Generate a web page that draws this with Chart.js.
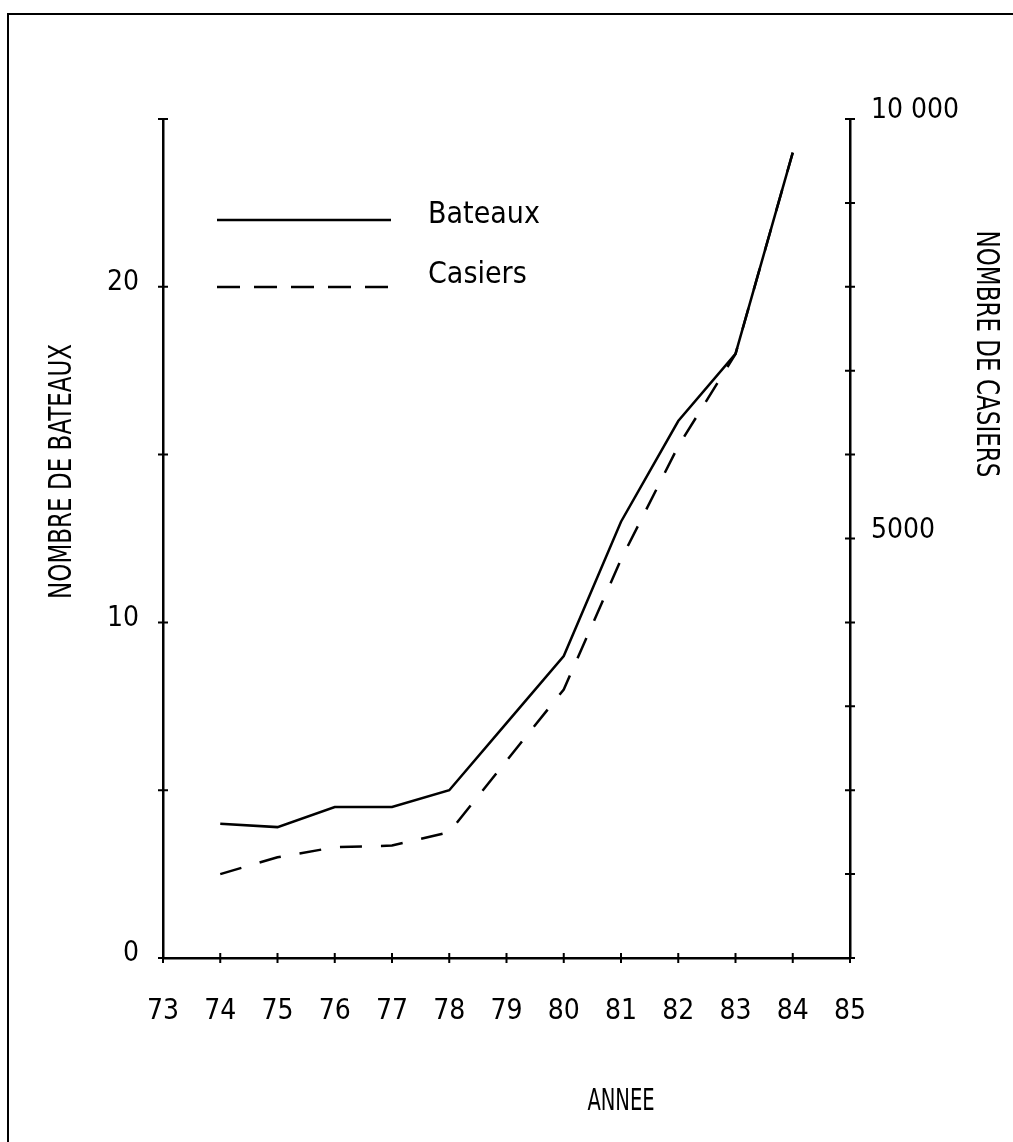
<!DOCTYPE html>
<html>
<head>
<meta charset="utf-8">
<title>Bateaux et casiers</title>
<script src="https://cdn.jsdelivr.net/npm/chart.js@4.4.1/dist/chart.umd.min.js"></script>
<style>
  html, body { margin: 0; padding: 0; background: #fff; }
  #wrap { position: relative; width: 1013px; height: 1142px; overflow: hidden; }
  #frame { position: absolute; left: 7px; top: 13px; right: -10px; bottom: -10px;
           border-top: 2px solid #000; border-left: 2px solid #000; }
  canvas { position: absolute; left: 0; top: 0; }
</style>
</head>
<body>
<div id="wrap">
  <div id="frame"></div>
  <canvas id="chart" width="1013" height="1142"></canvas>
</div>
<script>
// Data
// ====
const years = [74, 75, 76, 77, 78, 79, 80, 81, 82, 83, 84];
const bateaux = [4, 3.9, 4.5, 4.5, 5, 7, 9, 13, 16, 18, 24];
const casiers = [1000, 1200, 1320, 1340, 1500, 2350, 3200, 4750, 6100, 7200, 9600];
const leftTickLabels = [0, 10, 20];
const rightTickLabels = { 5000: '5000', 10000: '10 000' };

const TITLE_LEFT = 'NOMBRE DE BATEAUX';
const TITLE_RIGHT = 'NOMBRE DE CASIERS';
const TITLE_X = 'ANNEE';

const FONT = "'Liberation Sans Narrow', 'DejaVu Sans Condensed', sans-serif";
const INK = '#000';
const LINE_W = 2.5;

// Small crossing tick marks on the three axes
const crossTicks = {
    id: 'crossTicks',
    afterDraw(chart) {
        const ctx = chart.ctx;
        const { x, y, y1 } = chart.scales;
        ctx.save();
        ctx.strokeStyle = INK;
        ctx.lineWidth = 2;
        ctx.beginPath();
        x.ticks.forEach(t => {
            const px = x.getPixelForValue(t.value);
            ctx.moveTo(px, x.top - 5);
            ctx.lineTo(px, x.top + 5);
        });
        y.ticks.forEach(t => {
            const py = y.getPixelForValue(t.value);
            ctx.moveTo(y.right - 5, py);
            ctx.lineTo(y.right + 5, py);
        });
        y1.ticks.forEach(t => {
            const py = y1.getPixelForValue(t.value);
            ctx.moveTo(y1.left - 5, py);
            ctx.lineTo(y1.left + 5, py);
        });
        ctx.stroke();
        ctx.restore();
    }
};

// Narrow, tall lettering like the plotter's stroke font
function narrowText(ctx, text, cx, cy, angle, size, squeeze) {
    ctx.save();
    ctx.translate(cx, cy);
    ctx.rotate(angle);
    ctx.scale(squeeze, 1);
    ctx.font = `${size}px ${FONT}`;
    ctx.textAlign = 'center';
    ctx.textBaseline = 'middle';
    ctx.fillText(text, 0, 0);
    ctx.restore();
}

// Axis titles, placed where the plotter put them
const axisTitles = {
    id: 'axisTitles',
    afterDraw(chart) {
        const ctx = chart.ctx;
        const { x, y, y1 } = chart.scales;
        ctx.save();
        ctx.fillStyle = INK;
        narrowText(ctx, TITLE_LEFT, 63, y.getPixelForValue(14.5), -Math.PI / 2, 32, 0.8);
        narrowText(ctx, TITLE_RIGHT, 985, y1.getPixelForValue(7200), Math.PI / 2, 32, 0.8);
        narrowText(ctx, TITLE_X, x.getPixelForValue(81), 1102, 0, 31, 0.7);
        ctx.restore();
    }
};

// Legend drawn inside the plot, long line samples
const lineLegend = {
    id: 'lineLegend',
    afterDraw(chart) {
        const ctx = chart.ctx;
        const area = chart.chartArea;
        const x0 = area.left + 54;
        const x1 = area.left + 228;
        const rows = [area.top + 101, area.top + 168];
        ctx.save();
        ctx.font = `30px ${FONT}`;
        ctx.textBaseline = 'middle';
        ctx.fillStyle = INK;
        chart.data.datasets.forEach((ds, i) => {
            const ly = rows[i];
            ctx.strokeStyle = ds.borderColor;
            ctx.lineWidth = LINE_W;
            ctx.setLineDash(ds.borderDash ? [23, 14] : []);
            ctx.beginPath();
            ctx.moveTo(x0, ly);
            ctx.lineTo(x1, ly);
            ctx.stroke();
            ctx.fillText(ds.label, x1 + 37, ly - (i === 0 ? 5 : 12));
        });
        ctx.restore();
    }
};

const ctx = document.getElementById('chart').getContext('2d');
new Chart(ctx, {
    type: 'line',
    data: {
        datasets: [{
            label: 'Bateaux',
            data: years.map((yr, i) => ({ x: yr, y: bateaux[i] })),
            yAxisID: 'y',
            borderColor: INK,
            borderWidth: LINE_W,
            pointRadius: 0,
            tension: 0,
            fill: false
        }, {
            label: 'Casiers',
            data: years.map((yr, i) => ({ x: yr, y: casiers[i] })),
            yAxisID: 'y1',
            borderColor: INK,
            borderWidth: LINE_W,
            borderDash: [22, 19],
            pointRadius: 0,
            tension: 0,
            fill: false
        }]
    },
    options: {
        responsive: false,
        devicePixelRatio: 1,
        animation: false,
        layout: { padding: { top: 119, left: 0, right: 0, bottom: 0 } },
        plugins: {
            legend: { display: false },
            tooltip: { enabled: false }
        },
        scales: {
            x: {
                type: 'linear',
                min: 73,
                max: 85,
                grid: { display: false },
                border: { display: true, color: INK, width: LINE_W },
                ticks: {
                    stepSize: 1,
                    autoSkip: false,
                    padding: 29,
                    color: INK,
                    font: { family: FONT, size: 28 },
                    callback: v => String(v)
                },
                afterFit: s => { s.height = 184; }
            },
            y: {
                position: 'left',
                min: 0,
                max: 25,
                grid: { display: false },
                border: { display: true, color: INK, width: LINE_W },
                ticks: {
                    stepSize: 5,
                    padding: 16,
                    labelOffset: -4,
                    color: INK,
                    font: { family: FONT, size: 28 },
                    callback: v => leftTickLabels.includes(v) ? String(v) : ''
                },
                afterFit: s => { s.width = 163; }
            },
            y1: {
                position: 'right',
                min: 0,
                max: 10000,
                grid: { display: false },
                border: { display: true, color: INK, width: LINE_W },
                ticks: {
                    stepSize: 1000,
                    padding: 13,
                    labelOffset: -8,
                    color: INK,
                    font: { family: FONT, size: 28 },
                    callback: v => rightTickLabels[v] || ''
                },
                afterFit: s => { s.width = 163; }
            }
        }
    },
    plugins: [crossTicks, axisTitles, lineLegend]
});
</script>
</body>
</html>
